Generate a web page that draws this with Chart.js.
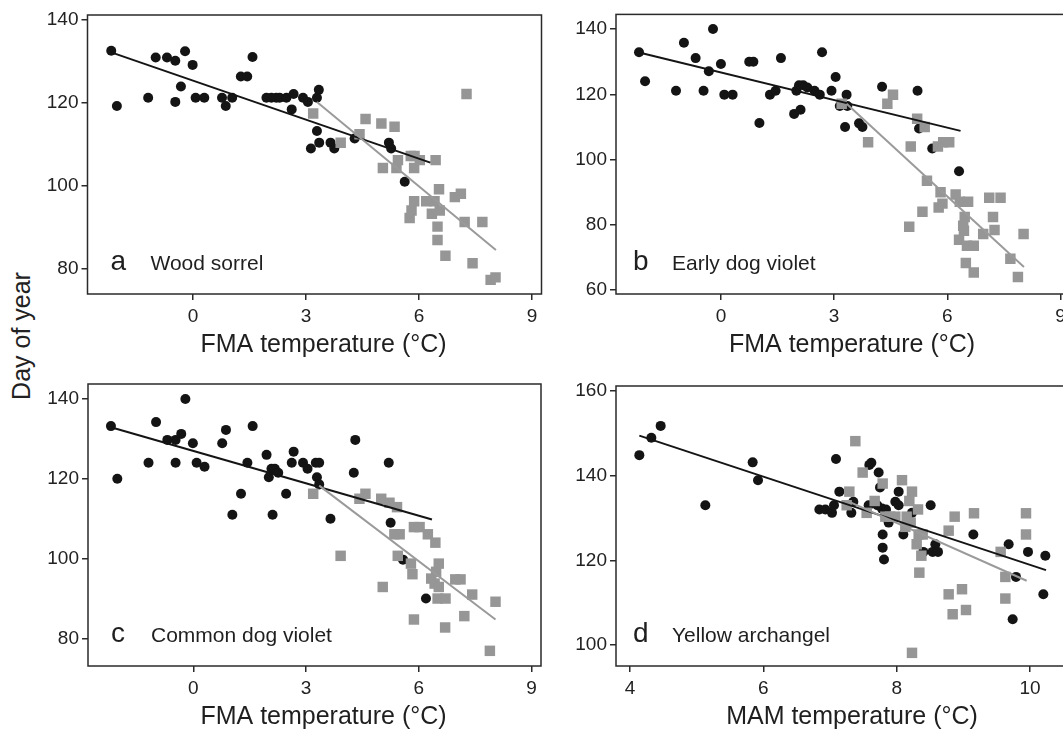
<!DOCTYPE html>
<html><head><meta charset="utf-8">
<script src="https://cdn.jsdelivr.net/npm/chart.js@4.4.1/dist/chart.umd.min.js"></script>
<style>
html,body{margin:0;padding:0;background:#fff;overflow:hidden;width:1063px;height:730px;position:relative;}
canvas{position:absolute;}
#ylab{position:absolute;left:21px;top:336px;transform:translate(-50%,-50%) rotate(-90deg);font:25px "Liberation Sans",Arial,sans-serif;color:#222;white-space:nowrap;}
</style></head><body>
<div id="ylab">Day of year</div>
<canvas id="ca" width="560" height="370" style="left:0;top:0"></canvas>
<canvas id="cb" width="560" height="370" style="left:530px;top:0"></canvas>
<canvas id="cc" width="560" height="370" style="left:0;top:360px"></canvas>
<canvas id="cd" width="560" height="370" style="left:530px;top:360px"></canvas>
<script>
// ---- tick labels / text ----
const fmaTicks = [0, 3, 6, 9];
const mamTicks = [4, 6, 8, 10];
const yTicksA = [80, 100, 120, 140];
const yTicksB = [60, 80, 100, 120, 140];
const yTicksC = [80, 100, 120, 140];
const yTicksD = [100, 120, 140, 160];
const panelLetters = ['a', 'b', 'c', 'd'];
const speciesNames = ['Wood sorrel', 'Early dog violet', 'Common dog violet', 'Yellow archangel'];
const xTitles = ['FMA temperature (°C)', 'FMA temperature (°C)', 'FMA temperature (°C)', 'MAM temperature (°C)'];

// ---- a: Wood sorrel ----
const sorrelCircleX = [-2.17,-2.02,-1.19,-0.99,-0.69,-0.47,-0.21,-0.47,-0.32,-0.01,0.07,0.30,0.77,0.87,1.04,1.27,1.44,1.58,1.95,2.08,2.21,2.30,2.48,2.67,2.62,2.92,3.05,3.29,3.34,3.29,3.35,3.13,3.65,3.75,4.29,5.20,5.26,5.62];
const sorrelCircleY = [132.5,119.2,121.2,130.9,130.9,130.1,132.4,120.2,123.9,129.1,121.2,121.2,121.2,119.2,121.2,126.3,126.3,131.0,121.2,121.2,121.2,121.2,121.2,122.1,118.4,121.2,120.2,121.2,123.1,113.2,110.4,109.0,110.4,109.0,111.4,110.4,109.0,101.0];
const sorrelSquareX = [3.19,3.92,4.58,4.42,5.00,5.35,5.04,5.44,5.40,5.78,5.88,6.02,5.87,6.44,7.26,6.53,5.87,5.80,5.75,6.19,6.41,6.34,6.55,6.95,7.11,6.49,6.49,7.21,7.68,6.70,7.42,7.90,8.03];
const sorrelSquareY = [117.4,110.4,116.1,112.4,115.0,114.2,104.3,106.2,104.3,107.2,107.2,106.2,104.3,106.2,122.1,99.2,96.3,94.1,92.3,96.3,96.3,93.3,94.1,97.3,98.1,90.2,87.0,91.3,91.3,83.2,81.4,77.4,78.0];
const sorrelBlackLineX = [-2.17, 6.30];
const sorrelBlackLineY = [132.1, 105.6];
const sorrelGrayLineX = [3.29, 8.04];
const sorrelGrayLineY = [120.2, 84.6];

// ---- b: Early dog violet ----
const earlyCircleX = [-2.17,-2.01,-1.19,-0.98,-0.67,-0.46,-0.32,-0.21,0.00,0.09,0.31,0.75,0.86,1.02,1.30,1.45,1.59,1.94,2.11,2.00,2.07,2.18,2.29,2.48,2.62,2.68,2.93,3.04,3.33,3.35,3.15,3.29,3.66,3.75,4.27,5.21,5.25,5.60,6.31];
const earlyCircleY = [132.9,124.0,121.1,135.8,131.1,121.1,127.1,140.0,129.3,119.9,119.9,130.0,130.0,111.2,119.9,121.1,131.1,114.0,115.3,121.1,122.8,122.8,122.1,121.1,119.9,132.9,121.1,125.3,119.9,116.4,116.4,110.0,111.1,110.0,122.3,121.1,109.5,103.4,96.4];
const earlySquareX = [3.20,3.90,4.41,4.56,5.03,5.20,5.40,5.75,5.89,6.05,5.46,5.82,5.87,5.77,5.34,4.99,6.22,6.33,6.55,6.46,6.42,6.44,6.31,6.52,6.70,7.11,7.41,7.21,7.25,6.95,8.02,6.49,6.70,7.67,7.87];
const earlySquareY = [117.1,105.3,117.1,119.9,104.0,112.5,110.0,104.0,105.3,105.3,93.5,90.0,86.5,85.3,84.0,79.4,89.3,87.1,87.1,82.4,79.7,78.2,75.4,73.6,73.6,88.3,88.3,82.4,78.4,77.2,77.2,68.3,65.4,69.6,64.0];
const earlyBlackLineX = [-2.06, 6.35];
const earlyBlackLineY = [132.5, 108.8];
const earlyGrayLineX = [3.33, 8.03];
const earlyGrayLineY = [117.1, 67.1];

// ---- c: Common dog violet ----
const commonCircleX = [-2.19,-2.02,-1.19,-0.99,-0.69,-0.47,-0.32,-0.47,-0.21,-0.01,0.09,0.30,0.77,0.87,1.04,1.27,1.44,1.58,1.95,2.01,2.08,2.17,2.26,2.11,2.47,2.62,2.67,2.92,3.04,3.26,3.35,3.29,3.35,3.65,4.27,4.31,5.20,5.25,5.58,6.19];
const commonCircleY = [133.2,120.0,124.0,134.2,129.75,129.75,131.25,124.0,140.0,128.9,124.0,123.0,128.9,132.25,111.0,116.25,124.0,133.2,126.0,120.4,122.5,122.5,121.5,111.0,116.25,124.0,126.8,124.0,122.5,124.0,124.0,120.4,118.6,110.0,121.5,129.75,124.0,109.0,99.75,90.0];
const commonSquareX = [3.19,3.92,4.42,4.58,5.00,5.22,5.42,5.35,5.49,5.87,6.02,6.24,6.44,5.44,5.79,5.83,6.53,6.46,6.33,6.42,6.53,6.97,7.11,6.50,6.71,5.04,7.42,8.04,5.87,7.21,6.70,7.89];
const commonSquareY = [116.25,100.7,115.0,116.25,115.0,114.0,112.9,106.1,106.1,107.9,107.9,106.1,104.0,100.7,98.75,96.1,98.75,96.7,95.0,93.75,92.9,94.8,94.8,90.0,90.0,92.9,91.0,89.2,84.75,85.6,82.75,76.9];
const commonBlackLineX = [-2.19, 6.35];
const commonBlackLineY = [132.9, 109.8];
const commonGrayLineX = [3.35, 8.04];
const commonGrayLineY = [118.3, 84.75];

// ---- d: Yellow archangel ----
const archCircleX = [4.14,4.32,4.46,5.13,5.84,5.92,6.84,6.93,7.03,7.06,7.09,7.14,7.32,7.35,7.58,7.59,7.62,7.73,7.75,7.71,7.78,7.84,7.79,7.79,7.81,7.88,7.98,8.03,8.03,8.10,8.23,8.40,8.51,8.58,8.54,8.62,9.15,9.68,9.79,9.74,9.97,10.23,10.20];
const archCircleY = [144.8,148.9,151.7,133.0,143.1,138.9,132.0,132.0,131.2,133.0,143.9,136.2,131.2,133.8,133.0,142.5,143.0,140.7,137.2,133.0,132.2,132.0,126.1,123.0,120.2,128.9,133.8,133.0,136.2,126.1,131.2,122.0,133.0,123.8,122.0,122.0,126.1,123.8,116.1,106.1,122.0,121.1,112.0];
const archSquareX = [7.38,7.49,7.29,7.25,7.55,7.67,7.79,7.83,7.90,7.98,8.08,8.23,8.19,8.32,8.15,8.21,8.13,8.33,8.39,8.30,8.37,8.34,8.78,8.87,9.16,8.78,8.98,8.84,9.04,8.23,9.56,9.63,9.63,9.94,9.94];
const archSquareY = [148.1,140.7,136.2,133.0,131.2,134.0,138.1,130.3,130.3,130.3,138.9,136.2,134.0,132.0,130.3,128.9,127.9,126.1,126.1,123.8,121.1,117.1,127.0,130.3,131.1,112.0,113.2,107.3,108.3,98.2,122.0,116.1,111.0,131.1,126.1];
const archBlackLineX = [4.14, 10.24];
const archBlackLineY = [149.4, 117.7];
const archGrayLineX = [7.29, 9.95];
const archGrayLineY = [133.8, 115.2];

// ---- helpers ----
const FONT = '"Liberation Sans", Arial, Helvetica, sans-serif';
const pts = (xs, ys) => xs.map((x, i) => ({ x: x, y: ys[i] }));

const panelDecor = {
  id: 'panelDecor',
  afterDraw(chart, args, o) {
    const ctx = chart.ctx, ca = chart.chartArea;
    ctx.save();
    ctx.strokeStyle = '#2a2a2a';
    ctx.lineWidth = 1.5;
    ctx.strokeRect(ca.left, ca.top, ca.right - ca.left, ca.bottom - ca.top);
    ctx.fillStyle = '#1f1f1f';
    ctx.textAlign = 'left';
    ctx.textBaseline = 'alphabetic';
    ctx.font = '28px ' + FONT;
    ctx.fillText(o.letter, ca.left + o.letterDx, ca.bottom - 24.5);
    ctx.font = '21px ' + FONT;
    ctx.fillText(o.name, ca.left + o.nameDx, ca.bottom - 24.5);
    ctx.textAlign = 'center';
    ctx.textBaseline = 'middle';
    ctx.font = '25px ' + FONT;
    ctx.fillText(o.xTitle, (ca.left + ca.right) / 2 + 9, ca.bottom + 51);
    ctx.restore();
  }
};

function makePanel(id, cfg) {
  const gridOpts = { display: true, drawOnChartArea: false, drawTicks: true, tickLength: 6, color: '#2a2a2a', lineWidth: 1.5 };
  const tickFont = { family: FONT, size: 19 };
  new Chart(document.getElementById(id), {
    type: 'scatter',
    data: {
      datasets: [
        { data: pts(cfg.cx, cfg.cy), pointStyle: 'circle', pointRadius: 5, backgroundColor: '#141414', borderWidth: 0, order: 3 },
        { data: pts(cfg.sx, cfg.sy), pointStyle: 'rect', pointRadius: 7.4, backgroundColor: '#969696', borderWidth: 0, order: 2 },
        { data: pts(cfg.blx, cfg.bly), showLine: true, pointRadius: 0, borderColor: '#141414', borderWidth: 2, order: 1 },
        { data: pts(cfg.glx, cfg.gly), showLine: true, pointRadius: 0, borderColor: '#9a9a9a', borderWidth: 2, order: 0 }
      ]
    },
    options: {
      responsive: false,
      animation: false,
      events: [],
      layout: { padding: { top: cfg.padTop, right: cfg.padRight, left: 0, bottom: 0 } },
      plugins: {
        legend: { display: false },
        tooltip: { enabled: false },
        panelDecor: { letter: cfg.letter, name: cfg.name, xTitle: cfg.xTitle, letterDx: cfg.letterDx, nameDx: cfg.nameDx }
      },
      scales: {
        x: {
          type: 'linear', position: 'bottom', min: cfg.xmin, max: cfg.xmax,
          afterBuildTicks: s => { s.ticks = cfg.xticks.map(v => ({ value: v })); },
          afterFit: s => { s.height = cfg.xH; },
          ticks: { font: tickFont, color: '#222', padding: 5, maxRotation: 0, autoSkip: false, callback: v => String(v) },
          grid: gridOpts,
          border: { display: false }
        },
        y: {
          type: 'linear', position: 'left', min: cfg.ymin, max: cfg.ymax,
          afterBuildTicks: s => { s.ticks = cfg.yticks.map(v => ({ value: v })); },
          afterFit: s => { s.width = cfg.yW; },
          ticks: { font: tickFont, color: '#222', padding: 3, autoSkip: false, callback: v => String(v) },
          grid: gridOpts,
          border: { display: false }
        }
      }
    },
    plugins: [panelDecor]
  });
}

makePanel('ca', { cx: sorrelCircleX, cy: sorrelCircleY, sx: sorrelSquareX, sy: sorrelSquareY,
  blx: sorrelBlackLineX, bly: sorrelBlackLineY, glx: sorrelGrayLineX, gly: sorrelGrayLineY,
  xmin: -2.8, xmax: 9.25, ymin: 74.0, ymax: 141.1, xticks: fmaTicks, yticks: yTicksA,
  padTop: 15, padRight: 18.5, yW: 87.5, xH: 76,
  letter: panelLetters[0], name: speciesNames[0], xTitle: xTitles[0], letterDx: 23, nameDx: 63 });

makePanel('cb', { cx: earlyCircleX, cy: earlyCircleY, sx: earlySquareX, sy: earlySquareY,
  blx: earlyBlackLineX, bly: earlyBlackLineY, glx: earlyGrayLineX, gly: earlyGrayLineY,
  xmin: -2.78, xmax: 9.25, ymin: 58.8, ymax: 144.5, xticks: fmaTicks, yticks: yTicksB,
  padTop: 11, padRight: 20, yW: 86, xH: 76,
  letter: panelLetters[1], name: speciesNames[1], xTitle: xTitles[1], letterDx: 17, nameDx: 56 });

makePanel('cc', { cx: commonCircleX, cy: commonCircleY, sx: commonSquareX, sy: commonSquareY,
  blx: commonBlackLineX, bly: commonBlackLineY, glx: commonGrayLineX, gly: commonGrayLineY,
  xmin: -2.8, xmax: 9.25, ymin: 73.1, ymax: 143.75, xticks: fmaTicks, yticks: yTicksC,
  padTop: 24, padRight: 19, yW: 88, xH: 64,
  letter: panelLetters[2], name: speciesNames[2], xTitle: xTitles[2], letterDx: 23, nameDx: 63 });

makePanel('cd', { cx: archCircleX, cy: archCircleY, sx: archSquareX, sy: archSquareY,
  blx: archBlackLineX, bly: archBlackLineY, glx: archGrayLineX, gly: archGrayLineY,
  xmin: 3.79, xmax: 10.6, ymin: 95.1, ymax: 161.1, xticks: mamTicks, yticks: yTicksD,
  padTop: 26, padRight: 20, yW: 86, xH: 64,
  letter: panelLetters[3], name: speciesNames[3], xTitle: xTitles[3], letterDx: 17, nameDx: 56 });
</script>
</body></html>
